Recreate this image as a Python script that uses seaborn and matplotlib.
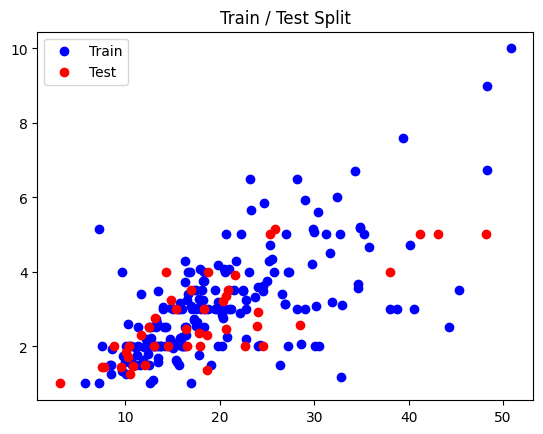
import matplotlib
matplotlib.use("Agg")
import matplotlib.pyplot as plt
import seaborn as sns

# total bill vs tip
train_x = [16.99, 10.34, 21.01, 23.68, 24.59, 25.29, 26.88, 15.04, 35.26, 15.42,
           18.43, 14.83, 10.33, 16.29, 17.92, 20.29, 15.77, 39.42, 19.82, 13.37,
           12.69, 21.70, 19.65, 18.35, 15.06, 17.78, 24.06, 16.31, 16.93, 31.27,
           16.04, 17.46, 13.94, 9.68, 30.40, 22.23, 32.40, 28.55, 18.04, 10.29,
           34.81, 9.94, 25.56, 19.49, 38.01, 26.41, 11.24, 48.27, 13.81, 11.02,
           18.29, 17.59, 20.08, 20.23, 15.01, 12.02, 17.07, 26.86, 14.73, 17.92,
           27.20, 22.76, 17.29, 19.44, 16.66, 32.68, 15.98, 34.83, 13.03, 18.28,
           24.71, 21.16, 28.97, 22.49, 5.75, 16.32, 22.75, 40.17, 27.28, 21.01,
           12.46, 11.35, 44.30, 22.42, 20.92, 15.36, 20.49, 25.21, 18.24, 14.00,
           7.25, 25.71, 17.31, 29.93, 10.65, 12.43, 13.42, 14.26, 15.95, 12.48,
           29.80, 8.52, 11.38, 22.82, 19.08, 20.27, 11.17, 12.26, 18.26, 8.51,
           14.15, 16.00, 17.47, 34.30, 27.05, 16.43, 8.35, 11.87, 9.78, 7.51,
           14.07, 13.13, 17.26, 19.77, 29.85, 25.00, 13.39, 21.50, 12.66, 16.21,
           13.81, 17.51, 24.52, 20.76, 31.71, 10.59, 10.63, 50.81, 15.81, 7.25,
           31.85, 16.82, 32.90, 14.48, 9.60, 34.63, 34.65, 23.33, 45.35, 23.17,
           40.55, 20.69, 30.46, 18.15, 23.10, 15.69, 19.81, 15.48, 16.58, 10.34,
           13.51, 12.74, 13.00, 16.40, 20.53, 16.47, 26.59, 38.73, 24.27, 12.76,
           30.06, 48.33, 13.27, 28.17, 12.90, 28.15, 11.59, 30.14, 12.16, 13.42,
           8.58, 15.98, 13.42, 16.27, 10.09, 20.45, 13.28, 22.12, 24.01, 15.69,
           11.61, 15.53, 10.07, 12.60, 32.83, 35.83, 29.03, 27.18, 17.82, 18.78]
train_y = [1.01, 1.66, 3.50, 3.31, 3.61, 4.71, 3.12, 1.96, 5.00, 1.57,
           3.00, 3.02, 1.67, 3.71, 4.08, 2.75, 2.23, 7.58, 3.18, 2.00,
           2.00, 4.30, 3.00, 2.50, 3.00, 3.27, 3.60, 2.00, 3.07, 5.00,
           2.24, 2.54, 3.06, 1.32, 5.60, 5.00, 6.00, 2.05, 3.00, 2.60,
           5.20, 1.56, 4.34, 3.51, 3.00, 1.50, 1.76, 6.73, 2.00, 1.98,
           3.76, 2.64, 3.15, 2.01, 2.09, 1.97, 3.00, 3.14, 2.20, 3.08,
           4.00, 3.00, 2.71, 3.00, 3.40, 5.00, 2.03, 5.17, 2.00, 4.00,
           5.85, 3.00, 3.00, 3.50, 1.00, 4.30, 3.25, 4.73, 4.00, 3.00,
           1.50, 2.50, 2.50, 3.48, 4.08, 1.64, 4.06, 4.29, 3.76, 3.00,
           1.00, 4.00, 3.50, 5.07, 1.50, 1.80, 1.68, 2.50, 2.00, 2.52,
           4.20, 1.48, 2.00, 2.18, 1.50, 2.83, 1.50, 2.00, 3.25, 1.25,
           2.00, 2.00, 3.50, 6.70, 5.00, 2.30, 1.50, 1.63, 1.73, 2.00,
           2.50, 2.00, 2.74, 2.00, 5.14, 3.75, 2.61, 3.50, 2.50, 2.00,
           2.00, 3.00, 3.48, 2.24, 4.50, 1.61, 2.00, 10.00, 3.16, 5.15,
           3.18, 4.00, 3.11, 2.00, 4.00, 3.55, 3.68, 5.65, 3.50, 6.50,
           3.00, 5.00, 2.00, 3.50, 4.00, 1.50, 4.19, 2.02, 4.00, 2.00,
           2.00, 2.01, 2.00, 2.50, 4.00, 3.23, 3.41, 3.00, 2.03, 2.23,
           2.00, 9.00, 2.50, 6.50, 1.10, 3.00, 1.50, 3.09, 2.20, 3.48,
           1.92, 3.00, 1.58, 2.50, 2.00, 3.00, 2.72, 2.88, 2.00, 3.00,
           3.39, 3.00, 1.25, 1.00, 1.17, 4.67, 5.92, 2.00, 1.75, 3.00]

test_x = [3.07, 7.56, 7.74, 8.77, 9.55, 10.07, 10.27, 10.33, 10.77, 10.51,
          12.03, 11.69, 12.54, 13.16, 13.00, 14.52, 14.31, 14.78, 15.38, 16.97,
          16.45, 16.49, 17.81, 17.89, 18.29, 18.69, 18.71, 18.64, 20.29, 20.65,
          20.90, 20.69, 21.58, 22.67, 23.95, 24.08, 24.55, 25.28, 25.89, 28.44,
          38.07, 41.19, 43.11, 48.17]
test_y = [1.00, 1.44, 1.44, 2.00, 1.45, 1.83, 1.71, 2.00, 1.47, 1.25,
          1.50, 2.31, 2.50, 2.75, 2.00, 2.00, 4.00, 3.23, 3.00, 3.50,
          2.47, 2.00, 2.34, 2.00, 3.00, 2.31, 4.00, 1.36, 3.21, 3.35,
          3.50, 2.45, 3.92, 2.00, 2.55, 2.92, 2.00, 5.00, 5.16, 2.56,
          4.00, 5.00, 5.00, 5.00]

fig = plt.figure(figsize=(5.43, 4.35), dpi=100)
ax = fig.add_axes([0.069, 0.078, 0.913, 0.847])

sns.scatterplot(x=train_x, y=train_y, color="blue", edgecolor="blue",
                linewidth=1, s=36, label="Train", ax=ax)
sns.scatterplot(x=test_x, y=test_y, color="red", edgecolor="red",
                linewidth=1, s=36, label="Test", ax=ax)

ax.set_title("Train / Test Split")
ax.legend(loc="upper left")

fig.savefig("out.png", dpi=100)
